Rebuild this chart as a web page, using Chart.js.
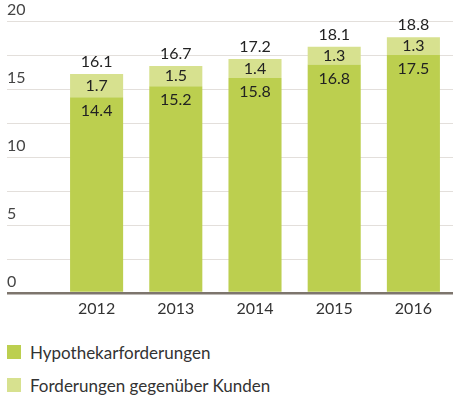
<!DOCTYPE html>
<html>
<head>
<meta charset="utf-8">
<script src="https://cdn.jsdelivr.net/npm/chart.js@4/dist/chart.umd.min.js"></script>
<style>
  body { margin: 0; background: #fff; font-family: Lato, "Open Sans", sans-serif; }
  #wrap { position: relative; width: 453px; height: 400px; }
  #maincanvas { position: absolute; left: 0; top: 0; }
  #legend { position: absolute; left: 7px; top: 342px; font-size: 17px; color: #333; }
  .item { height: 33px; display: flex; align-items: flex-start; }
  .box { width: 14px; height: 14px; margin-right: 9px; margin-top: 3px; }
</style>
</head>
<body>
<div id="wrap">
  <canvas id="maincanvas" width="453" height="320"></canvas>
  <div id="legend"></div>
</div>
<script>
var years = ["2012", "2013", "2014", "2015", "2016"];
var hypothek = [14.4, 15.2, 15.8, 16.8, 17.5];
var kunden = [1.7, 1.5, 1.4, 1.3, 1.3];
var totals = [16.1, 16.7, 17.2, 18.1, 18.8];
var seriesNames = ["Hypothekarforderungen", "Forderungen gegenüber Kunden"];
var colors = ["#bccf4f", "#d7e18f"];

var FONT = "Lato, 'Open Sans', sans-serif";

// value labels inside and above the bars
var valueLabels = {
    id: "valueLabels",
    afterDatasetsDraw: function(chart){
        var ctx = chart.ctx;
        ctx.save();
        ctx.font = "16px " + FONT;
        ctx.fillStyle = "#222";
        ctx.textAlign = "center";
        ctx.textBaseline = "middle";
        var m0 = chart.getDatasetMeta(0), m1 = chart.getDatasetMeta(1);
        for (var i = 0; i < years.length; i++) {
            var a = m0.data[i], b = m1.data[i];
            ctx.fillText(hypothek[i].toFixed(1), a.x, a.y + 14);
            ctx.fillText(kunden[i].toFixed(1), b.x, (b.y + b.base) / 2);
            ctx.fillText(totals[i].toFixed(1), b.x, b.y - 12);
        }
        ctx.restore();
    }
};

var mainchart = document.getElementById("maincanvas").getContext("2d");
var mainBarChart = new Chart(mainchart, {
    type: "bar",
    data: {
        labels: years,
        datasets: [{
            label: seriesNames[0],
            data: hypothek,
            backgroundColor: colors[0]
        }, {
            label: seriesNames[1],
            data: kunden,
            backgroundColor: colors[1]
        }]
    },
    options: {
        responsive: false,
        animation: false,
        layout: { padding: { left: 7, right: 0, top: 21, bottom: 0 } },
        plugins: { legend: { display: false }, tooltip: { enabled: false } },
        datasets: { bar: { barPercentage: 0.67, categoryPercentage: 1 } },
        scales: {
            x: {
                stacked: true,
                grid: { display: false, drawTicks: false },
                border: { display: false },
                afterFit: function(scale){ scale.height = 27; },
                ticks: { color: "#333", font: { family: FONT, size: 16 }, padding: 6 }
            },
            y: {
                stacked: true,
                min: 0,
                max: 20,
                afterFit: function(scale){ scale.width = 50; },
                border: { display: false },
                grid: {
                    tickLength: 50,
                    color: function(c){ return c.tick && c.tick.value === 0 ? "#7d756d" : "#e3dfdb"; },
                    lineWidth: function(c){ return c.tick && c.tick.value === 0 ? 2.5 : 1; }
                },
                ticks: {
                    stepSize: 2.5,
                    crossAlign: "far",
                    padding: 0,
                    labelOffset: -11,
                    color: "#444",
                    font: { family: FONT, size: 16 },
                    callback: function(v){ return v % 5 === 0 ? String(v) : ""; }
                }
            }
        }
    },
    plugins: [valueLabels]
});

var legend = document.getElementById("legend");
seriesNames.forEach(function(name, i){
    var row = document.createElement("div");
    row.className = "item";
    var box = document.createElement("span");
    box.className = "box";
    box.style.background = colors[i];
    var txt = document.createElement("span");
    txt.textContent = name;
    row.appendChild(box);
    row.appendChild(txt);
    legend.appendChild(row);
});
</script>
</body>
</html>
